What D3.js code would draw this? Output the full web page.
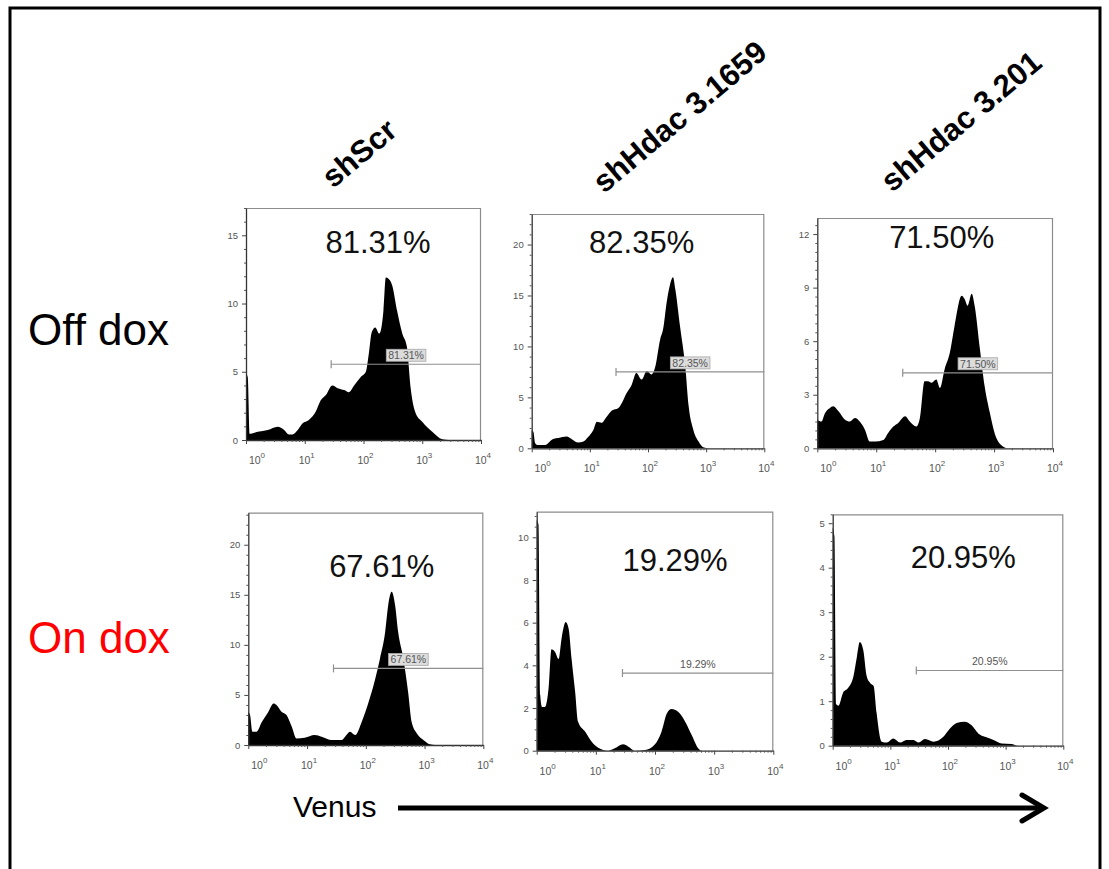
<!DOCTYPE html>
<html>
<head>
<meta charset="utf-8">
<script src="https://cdn.jsdelivr.net/npm/d3@7"></script>
<style>
  html, body { margin: 0; padding: 0; background: #fff; }
  svg { display: block; font-family: "Liberation Sans", Arial, sans-serif; }
</style>
</head>
<body>
<svg id="fig" width="1109" height="869"></svg>
<script>
// Knockdown constructs (columns) and doxycycline treatment (rows)
const constructs = ["shScr", "shHdac 3.1659", "shHdac 3.201"];
const treatments = ["Off dox", "On dox"];

// Percent of events inside the Venus-positive gate, row by row
const positivePct = [81.31, 82.35, 71.50, 67.61, 19.29, 20.95];

// Venus histograms: [log10 Venus intensity, events]
const histOffScr = [[0,4.9],[0.03,4.6],[0.06,0.45],[0.2,0.6],[0.37,0.73],[0.54,0.97],[0.65,0.73],[0.73,0.4],[0.79,0.4],[0.88,0.73],[0.96,1.2],[1.07,1.46],[1.19,2.1],[1.27,2.9],[1.36,3.3],[1.47,4.0],[1.56,3.8],[1.67,3.66],[1.75,3.5],[1.84,4.0],[1.95,4.6],[2.04,5.0],[2.09,6.3],[2.14,7.9],[2.2,8.25],[2.27,7.8],[2.34,9.5],[2.38,11.9],[2.43,11.8],[2.49,11.3],[2.57,9.5],[2.66,7.8],[2.74,6.8],[2.8,3.9],[2.88,2.06],[3.0,1.33],[3.17,0.6],[3.34,0.05],[3.45,0],[4,0]];
const histOffHdac1659 = [[0,1.8],[0.03,1.6],[0.06,0.5],[0.1,0.33],[0.23,0.33],[0.37,0.92],[0.46,1.0],[0.6,1.15],[0.69,0.9],[0.8,0.56],[0.89,0.66],[0.97,1.1],[1.06,1.8],[1.12,2.6],[1.2,2.5],[1.29,3.1],[1.38,3.7],[1.49,3.95],[1.55,4.45],[1.63,5.4],[1.72,6.25],[1.8,7.4],[1.89,6.75],[1.98,7.6],[2.06,7.25],[2.12,7.9],[2.21,10.7],[2.26,11.7],[2.32,14.3],[2.38,16.1],[2.43,16.8],[2.47,15.6],[2.55,12.0],[2.64,8.1],[2.7,4.1],[2.78,1.8],[2.87,0.66],[2.95,0.1],[3.04,0],[4,0]];
const histOffHdac201 = [[0,1.6],[0.07,1.5],[0.13,1.97],[0.21,2.25],[0.27,2.35],[0.36,2.07],[0.47,1.6],[0.55,1.5],[0.64,1.7],[0.72,1.5],[0.81,1.03],[0.89,0.38],[0.98,0.38],[1.12,0.47],[1.2,0.85],[1.29,1.22],[1.37,1.41],[1.49,1.79],[1.57,1.5],[1.68,1.22],[1.74,1.69],[1.82,3.76],[1.88,3.76],[1.94,3.67],[2.02,3.85],[2.08,3.38],[2.16,4.42],[2.25,5.36],[2.33,6.86],[2.45,8.55],[2.5,8.36],[2.55,7.99],[2.62,8.65],[2.67,7.99],[2.76,5.55],[2.84,3.48],[2.93,1.97],[3.01,0.85],[3.12,0.19],[3.24,0],[4,0]];
const histOnScr = [[0,3.3],[0.03,3.0],[0.07,1.33],[0.14,1.33],[0.23,2.3],[0.34,3.3],[0.43,4.15],[0.48,4.0],[0.57,3.3],[0.65,3.0],[0.74,1.83],[0.82,0.66],[0.96,0.73],[1.13,1.0],[1.25,0.83],[1.42,0.5],[1.59,0.5],[1.67,1.0],[1.73,1.33],[1.82,1.0],[1.93,2.3],[2.04,4.15],[2.16,6.6],[2.24,8.6],[2.33,11.3],[2.38,13.9],[2.44,15.3],[2.5,13.9],[2.55,11.3],[2.64,8.6],[2.72,5.3],[2.78,2.3],[2.87,1.16],[2.98,0.5],[3.09,0.07],[3.18,0],[4,0]];
const histOnHdac1659 = [[0,10.8],[0.03,10.6],[0.06,2.6],[0.09,2.05],[0.14,2.05],[0.2,2.9],[0.25,4.75],[0.31,4.63],[0.37,4.3],[0.42,5.25],[0.49,6.03],[0.54,5.72],[0.59,4.3],[0.65,2.76],[0.7,1.36],[0.82,0.89],[0.93,0.42],[1.04,0.14],[1.21,0],[1.32,0.11],[1.46,0.3],[1.55,0.19],[1.66,0],[1.83,0.03],[2.0,0.3],[2.11,0.89],[2.2,1.74],[2.28,1.95],[2.39,1.82],[2.51,1.36],[2.62,0.73],[2.73,0.11],[2.79,0],[4,0]];
const histOnHdac201 = [[0,4.9],[0.03,4.7],[0.06,0.93],[0.1,0.9],[0.18,1.19],[0.27,1.3],[0.36,1.56],[0.42,2.0],[0.47,2.33],[0.53,2.15],[0.59,1.56],[0.65,1.41],[0.71,1.34],[0.76,0.75],[0.85,0.09],[0.94,0.07],[1.05,0.16],[1.17,0.07],[1.28,0.13],[1.4,0.13],[1.49,0.07],[1.6,0.15],[1.75,0.09],[1.92,0.2],[2.03,0.38],[2.15,0.51],[2.29,0.54],[2.41,0.46],[2.53,0.27],[2.64,0.2],[2.79,0.13],[2.93,0.05],[3.1,0.04],[3.22,0],[4,0]];

const histograms = [histOffScr, histOffHdac1659, histOffHdac201, histOnScr, histOnHdac1659, histOnHdac201];

// Count axis extent, labelled tick spacing and minor tick spacing for each histogram
const countMax = [17, 23, 12.9, 23.2, 11.2, 5.2];
const countStep = [5, 5, 3, 5, 2, 1];
const countMinorStep = [1, 1, 0.5, 1, 0.5, 0.2];

// Venus axis decades (10^0 .. 10^4)
const venusDecades = [0, 1, 2, 3, 4];

// Positive gate: lower bound (log10 Venus) and the count level the gate bar sits at
const gateLowLog = 1.45;
const gateLevel = [5.55, 7.5, 4.23, 7.65, 3.64, 1.69];

// ---------------------------------------------------------------- layout
const panelBoxes = [
  { x: 246,   y: 208,   w: 235,   h: 232,   lx: 132,   ly: 45 },
  { x: 531.7, y: 214,   w: 232.6, h: 234.3, lx: 110,   ly: 39 },
  { x: 817.3, y: 218,   w: 235.7, h: 230.3, lx: 124.4, ly: 29.7 },
  { x: 248.3, y: 512.7, w: 235,   h: 232.3, lx: 133.4, ly: 64 },
  { x: 536.7, y: 511.7, w: 236.6, h: 239,   lx: 138.3, ly: 59 },
  { x: 832.7, y: 514.3, w: 230.6, h: 231.4, lx: 130.6, ly: 54 }
];
const headerAnchors = [[333, 189], [604, 194], [892, 193]];
const rowAnchors = [[28, 345], [28, 653]];

const svg = d3.select("#fig");

// outer frame
svg.append("rect")
  .attr("x", 10).attr("y", 8).attr("width", 1090).attr("height", 900)
  .attr("fill", "none").attr("stroke", "#000").attr("stroke-width", 3);

// column headers (rotated)
constructs.forEach((name, i) => {
  const [ax, ay] = headerAnchors[i];
  svg.append("text")
    .attr("transform", `translate(${ax},${ay}) rotate(-40)`)
    .attr("font-size", 31).attr("font-weight", "bold").attr("fill", "#000")
    .text(name);
});

// row labels
treatments.forEach((name, i) => {
  const [ax, ay] = rowAnchors[i];
  svg.append("text")
    .attr("x", ax).attr("y", ay)
    .attr("font-size", 44)
    .attr("fill", i === 0 ? "#000" : "#ff0000")
    .text(name);
});

const minorDecades = d3.range(0, 4).flatMap(k => d3.range(2, 10).map(m => Math.log10(m * Math.pow(10, k))));

panelBoxes.forEach((b, i) => {
  const g = svg.append("g").attr("transform", `translate(${b.x},${b.y})`);
  const x = d3.scaleLinear().domain([0, 4]).range([0, b.w]);
  const y = d3.scaleLinear().domain([0, countMax[i]]).range([b.h, 0]);
  const data = histograms[i];

  // histogram
  const area = d3.area()
    .x(d => x(d[0])).y0(y(0)).y1(d => y(d[1]))
    .curve(d3.curveMonotoneX);
  g.append("path").datum(data).attr("d", area).attr("fill", "#000");

  // plot frame (top and right)
  g.append("path")
    .attr("d", `M0,0.5H${b.w - 0.5}V${b.h}`)
    .attr("fill", "none").attr("stroke", "#8c8c8c").attr("stroke-width", 1.2);

  // count axis
  const major = d3.range(0, countMax[i] + 1e-9, countStep[i]);
  const minor = d3.range(0, countMax[i] + 1e-9, countMinorStep[i])
    .filter(v => !major.some(m => Math.abs(m - v) < 1e-9));
  const yAx = g.append("g")
    .call(d3.axisLeft(y).tickValues(major).tickSize(4).tickSizeOuter(0).tickPadding(4).tickFormat(d3.format("d")));
  yAx.selectAll("text").attr("font-size", 9.5).attr("fill", "#555").attr("font-family", "Liberation Sans, Arial, sans-serif");
  yAx.selectAll("line").attr("stroke", "#444");
  yAx.select(".domain").attr("stroke", "#333").attr("stroke-width", 1.3);
  const yMin = g.append("g")
    .call(d3.axisLeft(y).tickValues(minor).tickSize(2).tickFormat(""));
  yMin.select(".domain").remove();
  yMin.selectAll("line").attr("stroke", "#555");

  // Venus axis
  const xAx = g.append("g").attr("transform", `translate(0,${b.h})`)
    .call(d3.axisBottom(x).tickValues(venusDecades).tickSize(4).tickSizeOuter(0).tickFormat(""));
  xAx.select(".domain").attr("stroke", "#333").attr("stroke-width", 1.3);
  xAx.selectAll("line").attr("stroke", "#444");
  const xMin = g.append("g").attr("transform", `translate(0,${b.h})`)
    .call(d3.axisBottom(x).tickValues(minorDecades).tickSize(2).tickFormat(""));
  xMin.select(".domain").remove();
  xMin.selectAll("line").attr("stroke", "#555");

  venusDecades.forEach(k => {
    const cx = Math.max(x(k), 9) + 2;
    const t = g.append("text")
      .attr("x", cx).attr("y", b.h + 24)
      .attr("fill", "#555").attr("font-size", 10.5).attr("text-anchor", "middle");
    t.append("tspan").text("10");
    t.append("tspan").attr("dy", -6).attr("font-size", 8).text(k);
  });

  // positive gate
  const gx = x(gateLowLog), gy = y(gateLevel[i]);
  g.append("line").attr("x1", gx).attr("x2", b.w).attr("y1", gy).attr("y2", gy)
    .attr("stroke", "#8f8f8f").attr("stroke-width", 1.2);
  g.append("line").attr("x1", gx).attr("x2", gx).attr("y1", gy - 4).attr("y2", gy + 4)
    .attr("stroke", "#8f8f8f").attr("stroke-width", 1.2);

  const midLog = (gateLowLog + 4) / 2;
  const labelTxt = positivePct[i].toFixed(2) + "%";
  const lbl = g.append("text")
    .attr("x", x(midLog)).attr("y", gy - 5)
    .attr("text-anchor", "middle").attr("font-size", 10.5).attr("fill", "#555")
    .text(labelTxt);
  // label gets a backing box when it sits over the histogram
  const under = data.filter(d => Math.abs(d[0] - midLog) < 0.35);
  if (d3.max(under, d => d[1]) > gateLevel[i]) {
    const bb = lbl.node().getBBox();
    g.insert("rect", () => lbl.node())
      .attr("x", bb.x - 2).attr("y", bb.y)
      .attr("width", bb.width + 4).attr("height", bb.height)
      .attr("fill", "#dcdcdc").attr("stroke", "#a8a8a8").attr("stroke-width", 0.8);
  }

  // headline percentage
  g.append("text")
    .attr("x", b.lx).attr("y", b.ly)
    .attr("text-anchor", "middle").attr("font-size", 31).attr("fill", "#111")
    .text(labelTxt);
});

// Venus arrow
svg.append("text").attr("x", 293).attr("y", 817).attr("font-size", 30).attr("fill", "#000").text("Venus");
svg.append("line").attr("x1", 398).attr("x2", 1042).attr("y1", 808).attr("y2", 808)
  .attr("stroke", "#000").attr("stroke-width", 5);
svg.append("path").attr("d", "M1022,795L1044,808L1022,821")
  .attr("fill", "none").attr("stroke", "#000").attr("stroke-width", 5)
  .attr("stroke-linejoin", "miter").attr("stroke-linecap", "round");
</script>
</body>
</html>
